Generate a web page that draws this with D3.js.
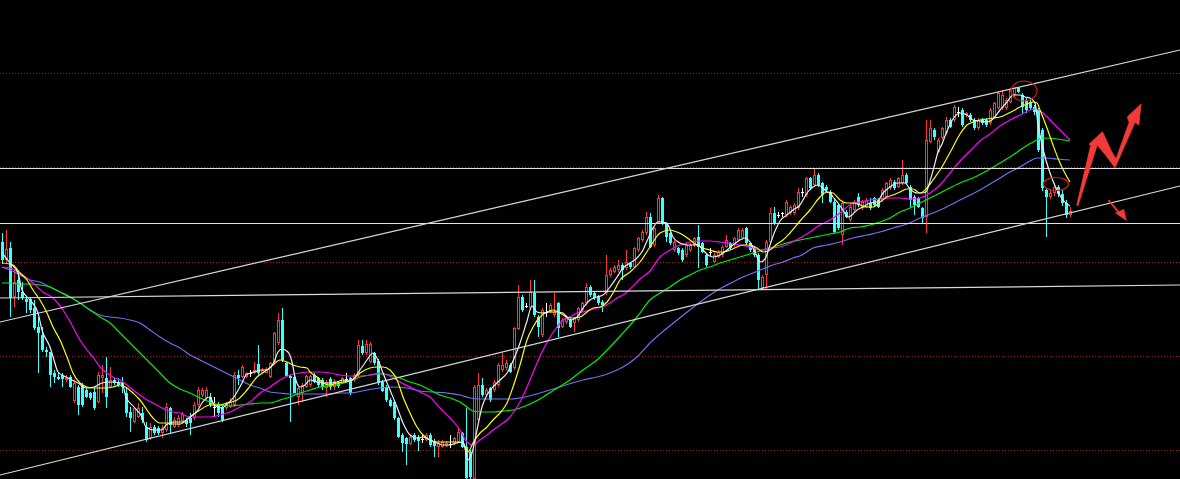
<!DOCTYPE html>
<html><head><meta charset="utf-8">
<script src="https://cdn.jsdelivr.net/npm/d3@7"></script>
<style>html,body{margin:0;padding:0;background:#000;overflow:hidden}svg{display:block}</style>
</head><body>
<svg id="c" width="1180" height="479"></svg>
<script>
// ---- candle data (price units, one entry per bar) ----
const openP = [
237,219,231,182,199,187,180,180,171,152, 144,129,127,106,102,104,99,102,78,92,
94,89,86,87,77,101,101,92,99,97, 96,86,67,57,62,66,52,41,52,51,
46,49,71,52,54,58,59,61,61,74, 84,81,82,72,74,72,71,72,74,104,
102,102,106,106,115,106,106,102,116,136, 159,116,103,102,82,86,92,94,104,101,
99,91,100,92,96,96,100,101,99,104, 133,126,117,126,118,97,92,79,77,61,
44,41,35,44,42,40,39,44,38,32, 32,33,35,36,37,46,32,27,0,59,
94,84,91,89,94,109,111,114,111,150, 182,173,171,186,162,144,167,167,164,176,
152,157,159,156,159,169,176,192,186,182, 177,186,204,207,209,214,211,216,212,229,
239,246,262,234,257,281,256,246,229,231, 229,224,229,234,242,236,224,227,217,222,
224,232,236,234,239,241,251,236,231,224, 191,204,237,266,264,266,264,266,266,271,
287,284,301,294,304,296,292,287,277,274, 244,267,259,269,282,271,272,276,281,279,
279,282,291,297,292,296,304,292,282,281, 271,262,337,349,327,341,346,359,359,367,
369,364,364,359,351,359,359,356,362,371, 371,371,377,384,391,384,379,377,372,369,
349,289,282,286,292,285,276,264];
const highP = [
246,249,237,209,209,197,182,182,179,162, 152,132,127,109,106,106,104,104,99,94,
96,91,87,91,107,114,122,112,101,101, 102,92,72,72,76,72,57,56,54,53,
54,76,72,62,64,67,61,66,77,92, 91,92,86,82,77,74,77,81,107,109,
114,107,109,117,134,111,112,117,147,166, 171,117,104,104,92,96,104,104,106,102,
101,99,102,100,97,102,106,102,106,139, 139,139,137,127,120,99,94,81,79,62,
46,42,44,46,44,44,46,46,40,39, 39,38,44,42,52,47,71,29,94,106,
101,91,92,99,116,126,119,116,152,194, 184,176,199,199,164,171,176,176,186,177,
161,164,161,162,172,177,196,194,187,184, 179,224,211,214,219,216,229,217,232,242,
249,267,266,252,284,282,257,247,239,232, 231,236,236,242,254,237,226,231,226,229,
234,244,237,242,251,251,252,237,232,226, 204,239,271,272,267,267,279,274,276,291,
291,302,302,311,306,297,294,289,281,276, 277,269,274,279,286,279,281,281,282,281,
291,297,301,299,302,319,306,294,284,282, 272,359,359,351,341,352,362,361,374,372,
371,367,366,361,361,361,361,371,377,387, 389,381,391,392,392,386,381,379,374,371,
351,291,289,296,294,289,279,272];
const lowP = [
215,216,162,172,179,179,166,166,149,106, 127,122,92,96,99,92,97,91,76,64,
72,81,79,69,76,86,71,92,94,92, 86,62,47,56,61,56,37,39,44,44,
41,47,46,51,52,56,52,44,59,72, 82,79,72,63,62,57,69,71,72,94,
101,101,102,105,104,105,106,101,115,134, 117,102,57,86,74,77,91,92,96,92,
89,82,89,89,91,95,96,84,97,102, 124,124,116,114,94,87,77,72,59,41,
27,14,34,37,28,36,38,32,22,22, 31,32,31,34,36,31,0,0,0,57,
82,82,77,87,92,107,109,106,109,149, 167,171,169,162,142,142,162,166,162,142,
151,155,151,147,157,167,174,182,179,174, 167,184,202,206,207,199,209,210,211,227,
237,244,231,232,256,254,237,234,227,224, 217,222,227,232,211,226,212,222,216,221,
222,231,229,232,237,239,234,227,222,189, 189,189,236,254,261,262,262,264,264,269,
282,282,289,292,292,276,287,276,246,249, 234,261,257,267,272,269,271,269,272,271,
277,281,289,289,291,294,294,272,264,271, 256,246,336,339,326,339,344,351,357,362,
352,362,357,349,349,354,352,354,361,369, 369,369,376,382,386,366,366,369,364,327,
288,242,280,283,282,273,261,262];
const closeP = [
219,230,181,197,187,181,177,169,151,146, 129,127,104,102,100,100,101,92,96,74,
74,82,81,71,104,104,82,99,96,94, 92,66,61,71,71,59,39,52,46,46,
51,72,54,59,61,65,55,56,74,89, 89,89,74,72,66,59,76,77,104,101,
112,106,106,109,106,109,110,116,146,159, 119,103,101,86,91,94,103,103,97,94,
92,97,92,98,93,101,100,86,104,134, 126,135,135,116,96,88,79,73,61,42,
36,35,42,39,38,40,44,34,33,36, 37,36,35,41,47,32,1,2,92,94,
84,89,79,97,114,114,116,107,151,182, 169,173,187,164,152,169,167,174,167,151,
159,162,152,161,171,176,192,184,181,176, 174,204,209,212,214,209,217,212,231,241,
247,262,232,251,281,256,242,236,237,226, 219,234,234,241,232,227,214,227,224,227,
232,239,231,241,249,249,236,229,224,199, 202,237,266,256,264,266,277,272,274,287,
287,301,291,304,294,284,289,277,247,251, 276,262,272,277,274,277,279,271,274,272,
289,296,299,291,301,304,296,279,274,272, 261,339,351,342,339,351,359,352,372,367,
354,366,359,351,359,356,354,369,376,386, 384,379,389,391,387,372,369,371,367,329,
291,282,286,292,285,276,264,268];

// ---- moving averages: [bar index, value] ----
const ma5 = [[0,226],[2,216],[4,206],[5,189],[7,179],[9,166],[10,149],[12,132],[13,119],[14,107],[16,102],[19,96],[21,91],[23,92],[25,96],[27,97],[30,96],[31,82],[33,72],[35,62],[36,52],[38,49],[40,49],[41,54],[43,57],[45,57],[47,62],[49,69],[50,76],[52,82],[53,74],[55,71],[56,74],[58,82],[60,96],[61,104],[63,107],[65,109],[66,109],[68,117],[69,127],[70,130],[71.5,127],[72.5,117],[73.25,102],[74.5,92],[75.75,94],[77,99],[78.75,97],[80.25,96],[82,96],[83.75,97],[85.25,99],[87,98],[89.5,109],[91.25,119],[92.75,126],[94,119],[95.25,106],[97,89],[98.75,72],[100.25,56],[102,44],[103.75,41],[105.25,42],[107,39],[108.75,36],[110.25,34],[112,34],[113.75,36],[115.25,37],[116.5,19],[117.5,26],[118.75,49],[120,72],[121.25,84],[122.75,92],[124.5,99],[126.25,106],[127.75,118],[129.5,136],[131.25,158],[132.5,173],[133.75,167],[135,166],[137,167],[138.75,167],[140.25,166],[142,159],[143.75,162],[145.25,171],[147,179],[148.75,182],[150.25,184],[152,192],[153.75,202],[155.25,211],[157,216],[158.75,221],[160.25,229],[161.25,238],[162.75,251],[164,257],[165.25,257],[166.5,254],[167.75,242],[169.5,236],[171.25,234],[172.75,234],[174,234],[175.25,229],[176.5,224],[177.75,222],[179.5,224],[181.25,229],[182.75,234],[184.5,239],[185.75,241],[187,237],[188.25,227],[189.5,217],[190.75,220],[192,234],[193.25,248],[194.5,258],[196.25,264],[197.75,269],[199.5,274],[201.25,286],[202.75,292],[204,294],[205.25,291],[206.25,287],[207,286],[207.75,282],[209,276],[210.25,269],[211.5,262],[212.5,264],[213.75,269],[215.25,272],[217,276],[218.75,277],[220.25,286],[222,292],[223.75,296],[225.75,296],[227,290],[228.75,286],[230,286],[231,287],[232,298],[233,312],[234,327],[235,335],[236.25,348],[237.75,360],[239.5,366],[241.25,364],[242.75,359],[244.5,358],[246.25,357],[247.75,360],[249.5,369],[251.25,377],[252.75,384],[254.5,384],[255.75,382],[257,381],[258.25,376],[259,355],[260.25,330],[262,306],[263.75,289],[265.25,279],[267,273]];
const ma10 = [[0,216],[2.75,214],[4.5,206],[6.25,199],[7.75,189],[9.5,179],[11.25,166],[12.75,152],[14.5,139],[16.25,122],[17.75,106],[19.5,96],[21.25,92],[22.75,91],[24.5,91],[26.25,91],[27.75,92],[29.5,94],[31.25,91],[32.75,86],[34.5,79],[36.25,69],[37.75,61],[39.5,56],[41.25,56],[42.75,55],[44.5,55],[47,62],[49.5,69],[52,74],[54.5,74],[56.25,76],[58.75,79],[61.25,89],[63.75,102],[66.25,109],[67.75,114],[69.5,119],[71.25,117],[72.75,114],[74.5,112],[76.25,111],[77,107],[78.75,102],[80.25,96],[82,94],[83.75,96],[85.25,97],[87,98],[89.5,106],[92,111],[93.75,112],[95.25,112],[97,109],[98.75,99],[100.25,82],[102,66],[103.75,52],[105.25,44],[107,39],[108.75,37],[110.25,37],[112,37],[113.75,37],[115.25,36],[116.5,27],[117.75,36],[119.5,46],[121.25,52],[122.75,59],[124.5,66],[126.25,76],[127.75,92],[129.5,114],[131.25,139],[132.75,152],[134.5,162],[136.25,167],[137.75,169],[139.5,166],[141.25,162],[142.75,161],[144.5,162],[146.25,167],[147.75,171],[149.5,172],[151.25,177],[152.75,186],[154.5,199],[157,207],[159.5,217],[162,232],[164.5,246],[167,249],[168.75,247],[170.25,244],[172,239],[173.75,234],[175.25,231],[177,229],[178.75,227],[180.25,227],[182,229],[183.75,232],[185.25,234],[187,234],[188.75,231],[190.25,227],[192,229],[193.75,235],[195.25,239],[197,246],[199.5,258],[202,269],[204.5,282],[206.25,287],[207.75,286],[209.5,279],[211.25,276],[212.75,276],[214.5,274],[216.25,272],[217.75,272],[219.5,277],[221.25,282],[222.75,284],[224.5,287],[226.25,290],[227.75,290],[229.5,286],[231.25,291],[232.75,299],[234.5,309],[236.25,321],[237.75,332],[239.5,345],[241.25,354],[242.75,357],[244.5,359],[246.25,360],[247.75,361],[249.5,362],[251.25,365],[252.75,368],[254.5,372],[256.25,375],[257.75,377],[258.75,376],[259.5,369],[261.25,351],[262.75,334],[264.5,316],[266.25,302],[267,297]];
const ma20 = [[0,212],[2,211],[4.5,206],[7.75,196],[10.25,187],[12.75,181],[15.25,169],[17.75,152],[19.5,139],[21.25,129],[22.75,122],[24.5,112],[26.25,106],[27.75,102],[29.5,99],[31.25,94],[32.75,89],[34.5,84],[36.25,79],[37.75,76],[39.5,72],[41.25,69],[42.75,67],[44.5,66],[47,62],[49.5,62],[52,62],[54.5,64],[57,67],[59.5,72],[62,77],[64.5,86],[67,92],[69.5,99],[72,104],[74.5,106],[77,107],[79.5,107],[82,106],[84.5,104],[87,103],[89.5,103],[92,104],[94.5,106],[97,103],[99.5,97],[102,92],[104.5,87],[107,82],[109.5,71],[112,61],[114.5,49],[116.25,37],[117.75,34],[119.5,39],[121.25,44],[122.75,49],[124.5,54],[126.25,59],[127.75,66],[129.5,77],[132,99],[133.75,116],[135.25,129],[137,142],[138.75,152],[140.25,159],[142,162],[143.75,166],[145.25,167],[147,169],[148.75,171],[150.25,172],[152,176],[153.75,181],[155.25,184],[157,190],[159.5,200],[162,208],[164.5,222],[167,229],[169.5,234],[172,237],[174.5,238],[177,238],[179.5,237],[182,236],[184.5,234],[187,232],[189.5,229],[192,231],[194.5,232],[197,236],[199.5,241],[202,247],[204.5,254],[207,259],[209.5,266],[211.25,272],[212.75,276],[214.5,277],[217,279],[219.5,280],[222,281],[224.5,281],[227,280],[229.5,281],[232,286],[234.5,294],[237,306],[239.5,318],[242,328],[244.5,338],[247,345],[249.5,353],[252,359],[254.5,364],[257,369],[258.5,370],[260.25,366],[262.75,356],[265.25,346],[267,339]];
const ma40 = [[0,196],[2,196],[4.5,195],[7,195],[9.5,194],[12,192],[14.5,187],[17,182],[19.5,176],[22,169],[24.5,162],[27,156],[29.5,146],[32,136],[34.5,126],[37,116],[39.5,106],[42,96],[44.5,90],[47,86],[49.5,81],[52,77],[54.5,74],[57,73],[59.5,74],[62,75],[64.5,76],[67,76],[69.5,79],[72,82],[74.5,86],[77,89],[79.5,92],[82,93],[84.5,95],[87,98],[89.5,102],[92,104],[94.5,105],[97,104],[99.5,101],[102,97],[104.5,94],[107,89],[109.5,84],[112,81],[114.5,77],[116.25,72],[117.75,68],[120.25,67],[122.75,67],[125.25,68],[127.75,69],[129.5,71],[134.5,80],[138,89],[142,99],[145.25,109],[148.75,119],[152,132],[155.25,146],[158.75,162],[162,179],[164.5,186],[167,192],[169.5,199],[172,204],[174.5,209],[177,212],[179.5,216],[182,219],[184.5,222],[187,225],[189.5,228],[192,231],[194.5,234],[197,237],[199.5,239],[202,241],[204.5,243],[207,245],[209.5,247],[212,251],[214.5,252],[217,254],[219.5,257],[222,261],[224.5,267],[227,271],[229.5,276],[232,281],[234.5,286],[239.5,296],[243.25,302],[247,310],[249.5,316],[252,322],[255.25,331],[257.75,337],[260.25,341],[263.75,340],[267,338]];
const ma60 = [[0,212],[2,209],[4.5,204],[7,199],[9.5,197],[12,192],[14.5,187],[17,182],[19.5,176],[22,169],[24.5,164],[27,162],[29.5,161],[32,159],[34.5,156],[37,149],[39.5,142],[42,136],[44.5,131],[47,124],[49.5,119],[52,114],[54.5,109],[57,104],[59.5,99],[62,94],[64.5,91],[67,87],[69.5,86],[72,85],[82,85],[84.5,86],[87,86],[91.25,89],[94.5,91],[97.75,92],[101.25,91],[104.5,88],[107.75,87],[111.25,86],[114.5,84],[117,81],[119.5,80],[127,80],[129.5,81],[137,89],[145.25,99],[148.75,102],[152,106],[155.25,112],[158.75,122],[162,136],[168.5,158],[175.25,179],[177.75,186],[180.25,192],[182.75,197],[185.25,202],[187.75,206],[190.25,210],[192.75,214],[195.25,217],[197.75,221],[200,224],[202.75,231],[206.25,234],[209.5,237],[212.75,241],[216.25,244],[219.5,247],[222.75,251],[226.25,255],[229.5,261],[232.75,266],[234.5,269],[239.5,279],[244.5,289],[249.5,301],[252,307],[254.5,312],[257,318],[258.75,321],[261.25,321],[263.75,320],[267,319]];

// ---- price grid levels and drawn lines ----
const gridLevels = [406.5, 312, 217.5, 123.5, 29];
const hLevels = [310.5, 255.5];
const trendLines = [
  [[-0.5,157],[294.5,429]],   // upper channel
  [[-0.5,4],[294.5,293]],     // lower channel
  [[-0.5,181],[294.5,194]]    // support
];
const circles = [[255.5,388,13,10],[263.5,295,12.5,6.5]];
const bigArrow = [[268.7,274],[272.2,334],[271.75,334.7],[275.1,347.3],[275.7,342.3],[277.2,329],[278.5,320],[281.8,356.7],[281.3,362],[284.75,375],[284.2,354],[283.25,356.7],[278.25,311.3],[275.75,324.7],[273.8,334],[269.0,273.3]];
const smallArrowLine = [[276.6,279],[279.5,265]];
const smallArrowHead = [[281.2,258],[278.25,266],[280.5,270]];

const svg = d3.select('#c');
const x = d3.scaleLinear().domain([0, 294.5]).range([2, 1180]);
const y = d3.scaleLinear().domain([0, 479]).range([479, 0]);

svg.append('rect').attr('width',1180).attr('height',479).attr('fill','#000');

// dotted grid
svg.append('g').selectAll('line').data(gridLevels).join('line')
  .attr('x1',0).attr('x2',1180)
  .attr('y1',d=>Math.round(y(d))+0.5).attr('y2',d=>Math.round(y(d))+0.5)
  .attr('stroke','#a81818').attr('stroke-dasharray','1,2').attr('stroke-width',1);

// candles
const UP='#ff3434', DN='#3cffff', DOJI='#ffffff';
const cg = svg.append('g').attr('shape-rendering','crispEdges');
d3.range(openP.length).forEach(i=>{
  const o=openP[i], h=highP[i], l=lowP[i], c=closeP[i];
  const px = Math.round(x(i));
  const wx = px + 0.5;
  const yh = Math.round(y(h)), yl = Math.round(y(l));
  const yt = Math.round(y(Math.max(o,c))), yb = Math.round(y(Math.min(o,c)));
  if (o === c) {
    cg.append('line').attr('x1',wx).attr('x2',wx).attr('y1',yh).attr('y2',yl).attr('stroke',DOJI);
    cg.append('line').attr('x1',px-1).attr('x2',px+2).attr('y1',yt+0.5).attr('y2',yt+0.5).attr('stroke',DOJI);
  } else if (c > o) {
    if (yt > yh) cg.append('line').attr('x1',wx).attr('x2',wx).attr('y1',yh).attr('y2',yt).attr('stroke',UP);
    if (yl > yb) cg.append('line').attr('x1',wx).attr('x2',wx).attr('y1',yb).attr('y2',yl).attr('stroke',UP);
    cg.append('rect').attr('x',px-0.5).attr('y',yt+0.5).attr('width',2).attr('height',Math.max(yb-yt-1,0))
      .attr('fill','#000').attr('stroke',UP).attr('stroke-width',1);
  } else {
    cg.append('line').attr('x1',wx).attr('x2',wx).attr('y1',yh).attr('y2',yl).attr('stroke',DN);
    cg.append('rect').attr('x',px-1).attr('y',yt).attr('width',3).attr('height',Math.max(yb-yt,1)).attr('fill',DN);
  }
});

// moving averages
const line = d3.line().x(d=>x(d[0])).y(d=>y(d[1])).curve(d3.curveMonotoneX);
[[ma60,'#7070f4'],[ma40,'#00f000'],[ma20,'#ff00ff'],[ma10,'#ffff00'],[ma5,'#eeeeee']].forEach(([d,col])=>{
  svg.append('path').attr('d',line(d)).attr('fill','none').attr('stroke',col).attr('stroke-width',1.2);
});

// horizontal and trend lines
svg.append('g').selectAll('line').data(hLevels).join('line')
  .attr('x1',0).attr('x2',1180).attr('y1',d=>y(d)).attr('y2',d=>y(d))
  .attr('stroke','#e2e2e2').attr('stroke-width',1.1);
svg.append('g').selectAll('line').data(trendLines).join('line')
  .attr('x1',d=>x(d[0][0])).attr('y1',d=>y(d[0][1]))
  .attr('x2',d=>x(d[1][0])).attr('y2',d=>y(d[1][1]))
  .attr('stroke','#dadada').attr('stroke-width',1.2);

// annotations
svg.append('g').selectAll('ellipse').data(circles).join('ellipse')
  .attr('cx',d=>x(d[0])).attr('cy',d=>y(d[1])).attr('rx',d=>d[2]).attr('ry',d=>d[3])
  .attr('fill','none').attr('stroke','#c42020').attr('stroke-width',1.2);
svg.append('polygon').attr('points',bigArrow.map(d=>x(d[0])+','+y(d[1])).join(' '))
  .attr('fill','#f23a3a').attr('stroke','#f23a3a').attr('stroke-width',0.8).attr('stroke-linejoin','round');
svg.append('line').attr('x1',x(smallArrowLine[0][0])).attr('y1',y(smallArrowLine[0][1]))
  .attr('x2',x(smallArrowLine[1][0])).attr('y2',y(smallArrowLine[1][1]))
  .attr('stroke','#f23a3a').attr('stroke-width',1.8);
svg.append('polygon').attr('points',smallArrowHead.map(d=>x(d[0])+','+y(d[1])).join(' '))
  .attr('fill','#f23a3a');
</script>
</body></html>
